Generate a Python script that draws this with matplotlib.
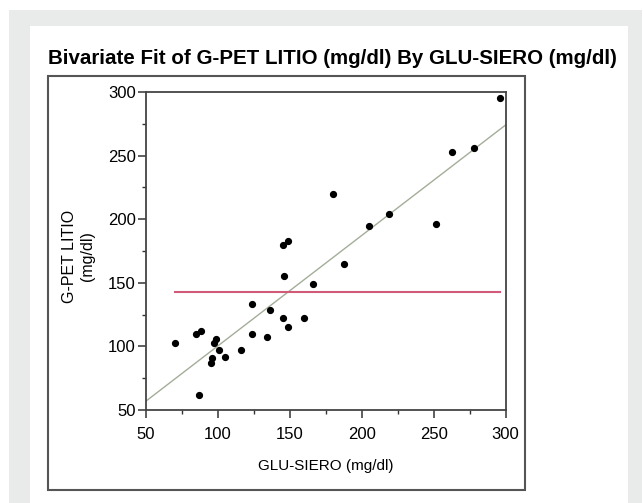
import matplotlib.pyplot as plt
from matplotlib.patches import Rectangle
from matplotlib.ticker import MultipleLocator

plt.rcParams['font.family'] = ['Liberation Sans', 'DejaVu Sans']

# data
glu_siero = [70, 85, 88, 87, 97, 99, 101, 96, 95, 105, 116, 124, 124, 134, 136,
             145, 149, 146, 160, 166, 188, 145, 149, 180, 205, 219, 252, 263, 278, 296]
g_pet_litio = [103, 110, 112, 62, 103, 106, 97, 91, 87, 92, 97, 110, 133, 107, 129,
               122, 115, 155, 122, 149, 165, 180, 183, 220, 195, 204, 196, 253, 256, 295]

# fitted line end points and mean line
fit_x = [50, 300]
fit_y = [57, 274]
mean_y = 143

fig = plt.figure(figsize=(6.43, 5.03), dpi=100)
W, H = 643, 503

def box(x0, y0, x1, y1, **kw):
    # rectangle in pixel coords (y from top)
    fig.patches.append(Rectangle((x0 / W, 1 - y1 / H), (x1 - x0) / W, (y1 - y0) / H,
                                 transform=fig.transFigure, **kw))

# gray page and white panel
box(9, 10, 642, 503, facecolor='#e9ebea', edgecolor='none', zorder=0)
box(30, 26, 628, 503, facecolor='white', edgecolor='none', zorder=0)
# frame around the plot
box(48, 76, 525, 490, facecolor='none', edgecolor='#555555', linewidth=1.5, zorder=1)

ax = fig.add_axes([146 / W, 1 - 410 / H, (505.5 - 146) / W, (410 - 92) / H])
ax.set_zorder(3)
ax.set_xlim(50, 300)
ax.set_ylim(50, 300)

ax.plot(fit_x, fit_y, color='#a3ad98', linewidth=1, zorder=2)
ax.plot([min(glu_siero), max(glu_siero)], [mean_y, mean_y], color='#d05a78', linewidth=1.5, zorder=2)
ax.plot(glu_siero, g_pet_litio, 'o', color='black', markersize=4.2, zorder=3)

ax.xaxis.set_major_locator(MultipleLocator(50))
ax.xaxis.set_minor_locator(MultipleLocator(25))
ax.yaxis.set_major_locator(MultipleLocator(50))
ax.yaxis.set_minor_locator(MultipleLocator(25))
ax.tick_params(which='major', direction='out', length=5.5, width=1.1, color='#333333',
               labelsize=12)
ax.tick_params(which='minor', direction='out', length=3, width=1.0, color='#333333')
ax.tick_params(axis='x', which='major', pad=7)
ax.tick_params(axis='y', which='major', pad=2)
for s in ax.spines.values():
    s.set_color('#444444')
    s.set_linewidth(1.3)

ax.set_xlabel('GLU-SIERO (mg/dl)', fontsize=11, labelpad=12)

fig.text(70 / W, 1 - 256 / H, 'G-PET LITIO', rotation=90, fontsize=11.5,
         ha='center', va='center')
fig.text(88 / W, 1 - 256 / H, '(mg/dl)', rotation=90, fontsize=11.5,
         ha='center', va='center')

fig.text(332 / W, 1 - 59 / H, 'Bivariate Fit of G-PET LITIO (mg/dl) By GLU-SIERO (mg/dl)',
         fontsize=14.8, fontweight='bold', ha='center', va='center')

plt.savefig('out.png', dpi=100)
